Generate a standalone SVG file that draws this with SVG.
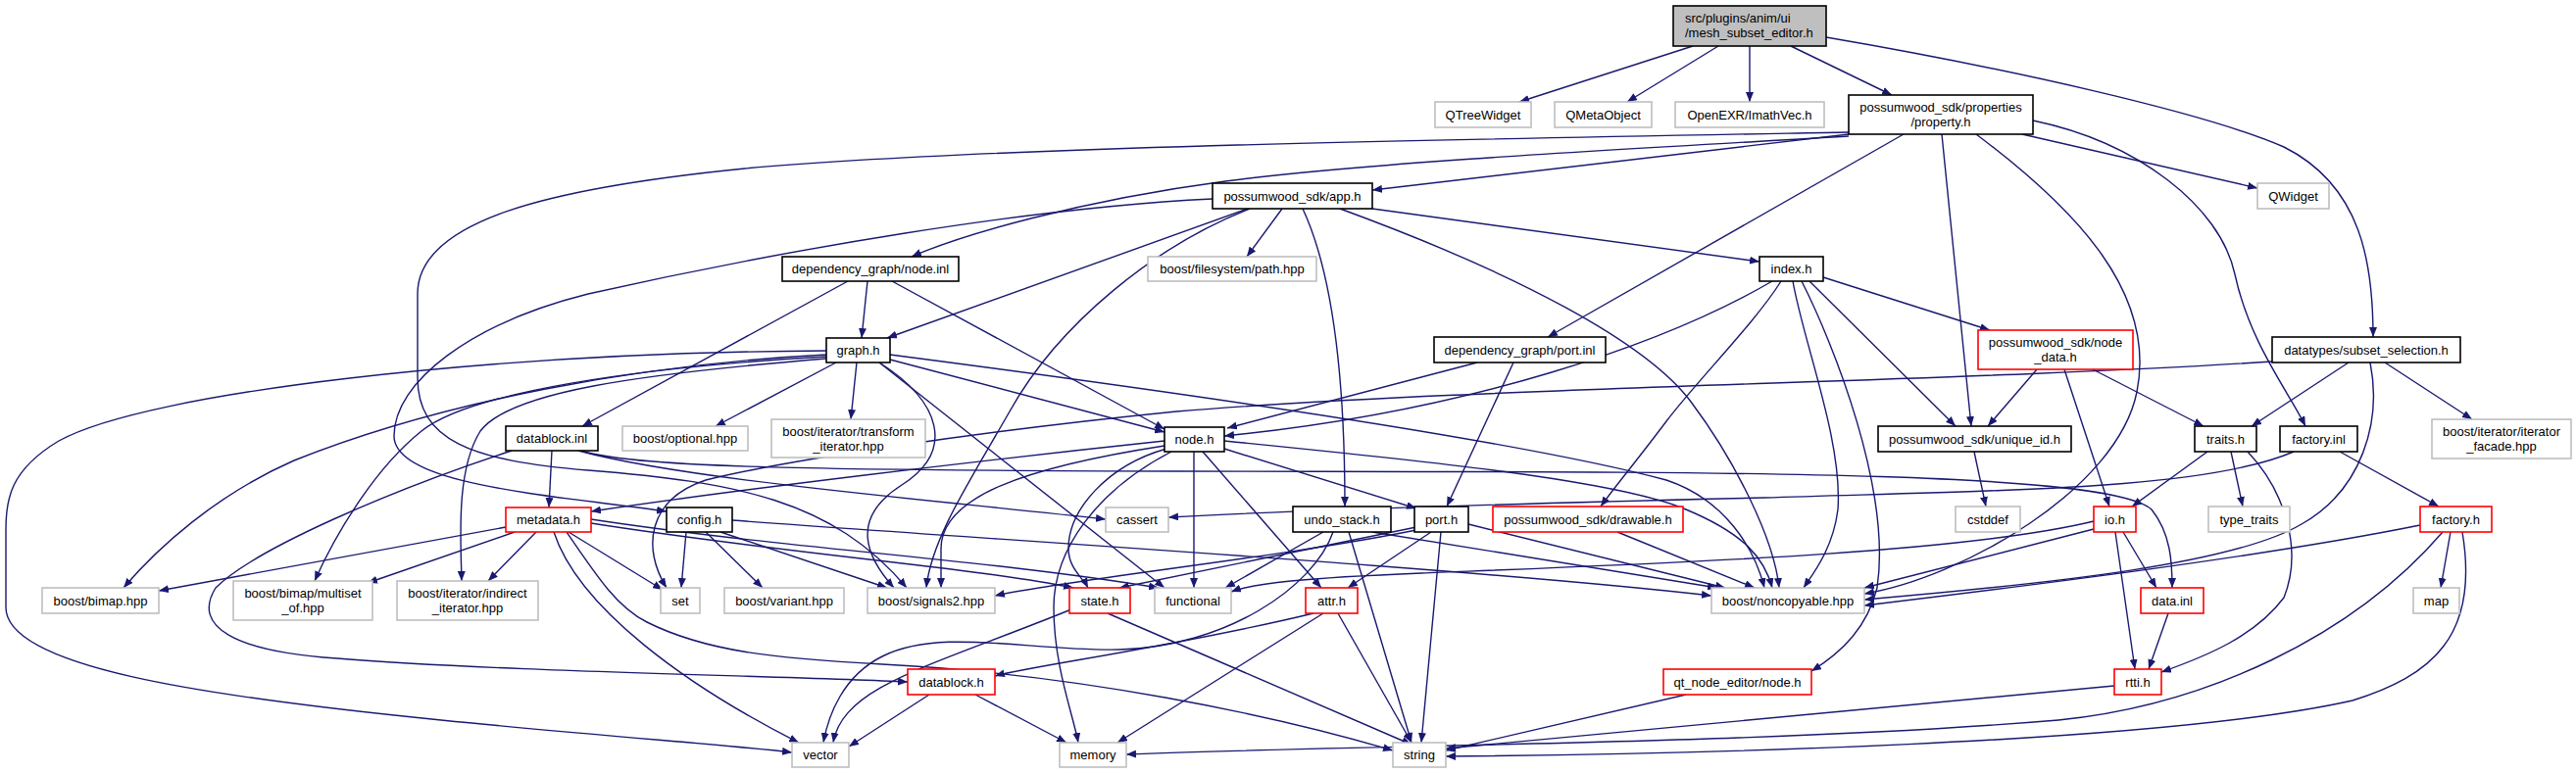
<svg xmlns="http://www.w3.org/2000/svg" width="2628" height="789" viewBox="0 0 2628 789">
<defs>
<style>
.e path{fill:none;stroke:#191970;stroke-width:1.4;marker-end:url(#ah)}
.n rect{fill:#fff;stroke:#000;stroke-width:1.6}
.x rect{fill:#fff;stroke:#bfbfbf;stroke-width:1.6}
.r rect{fill:#fff;stroke:#ff0000;stroke-width:1.6}
text{font-family:"Liberation Sans",Arial,sans-serif;font-size:13px;fill:#000;text-anchor:middle}
</style>
<marker id="ah" viewBox="0 0 10 8" refX="10" refY="4" markerWidth="10" markerHeight="8" markerUnits="userSpaceOnUse" orient="auto"><path d="M0,0 L10,4 L0,8 z" fill="#191970"/></marker>
</defs>
<rect width="2628" height="789" fill="#fff"/>
<g id="edges" class="e">
<path d="M1727,47 L1550,104"/>
<path d="M1753,47 L1660,104"/>
<path d="M1785,47 L1785,104"/>
<path d="M1827,47 L1930,97"/>
<path d="M1863,38 C2050,70 2250,115 2330,150 C2410,190 2421,270 2421,344"/>
<path d="M1886,137 L1400,194"/>
<path d="M1886,139 C1700,150 1400,165 1250,185 C1100,205 980,240 930,262"/>
<path d="M1886,135 C1500,142 1000,150 760,172 C560,192 426,225 426,300 L426,385 C426,450 480,470 600,480 C750,492 850,510 925,600"/>
<path d="M1942,137 L1579,344"/>
<path d="M2063,137 L2303,192"/>
<path d="M2074,123 C2180,145 2265,210 2280,280 C2295,350 2335,400 2352,435"/>
<path d="M1981,137 L2011,435"/>
<path d="M2016,137 C2120,215 2200,300 2180,400 C2160,500 2000,590 1902,606"/>
<path d="M1237,203 C1050,212 800,255 600,300 C480,330 402,390 402,445 C402,495 560,505 680,522"/>
<path d="M1273,213 L905,345"/>
<path d="M1275,213 C1180,250 1080,330 1030,420 C990,490 950,550 945,600"/>
<path d="M1308,213 L1272,262"/>
<path d="M1329,213 C1365,290 1372,420 1372,517"/>
<path d="M1367,213 C1550,280 1680,350 1725,410 C1770,470 1810,550 1815,600"/>
<path d="M1400,213 L1795,267"/>
<path d="M885,287 L879,345"/>
<path d="M910,287 L1188,438"/>
<path d="M865,287 L594,435"/>
<path d="M1808,287 C1700,350 1500,420 1249,445"/>
<path d="M1817,287 C1790,330 1730,390 1700,430 C1670,470 1645,500 1633,517"/>
<path d="M1829,287 C1840,350 1880,450 1875,520 C1870,560 1850,585 1840,600"/>
<path d="M1838,287 C1870,350 1930,500 1915,600 C1905,640 1880,665 1848,685"/>
<path d="M1846,287 L1995,435"/>
<path d="M1860,283 L2030,337"/>
<path d="M2078,377 L2028,435"/>
<path d="M2135,377 L2248,435"/>
<path d="M2106,377 L2152,517"/>
<path d="M2396,370 L2297,435"/>
<path d="M2433,370 L2522,428"/>
<path d="M2418,370 C2430,430 2410,500 2348,535 C2280,575 2100,595 1902,612"/>
<path d="M2318,369 C2000,390 1500,395 1200,420 C1000,440 800,470 720,490 C660,510 655,560 680,600"/>
<path d="M1507,370 L1252,437"/>
<path d="M1544,370 L1476,517"/>
<path d="M908,367 L1188,441"/>
<path d="M853,370 L730,435"/>
<path d="M874,370 L868,428"/>
<path d="M843,362 C650,372 450,410 300,470 C220,505 160,560 126,600"/>
<path d="M843,364 C650,375 480,400 430,440 C380,480 340,550 321,593"/>
<path d="M843,366 C650,382 520,400 490,440 C465,480 470,550 471,593"/>
<path d="M843,358 C500,360 150,400 60,450 C10,480 6,510 6,540 L6,620 C6,680 200,710 450,735 C620,752 740,760 808,768"/>
<path d="M897,370 C960,410 975,460 920,495 C865,530 885,570 912,600"/>
<path d="M897,370 L1188,600"/>
<path d="M908,362 C1200,400 1550,450 1700,490 C1760,510 1790,560 1800,600"/>
<path d="M563,460 L560,518"/>
<path d="M522,460 C400,500 260,560 220,600 C195,640 240,665 344,672 C500,685 800,690 926,696"/>
<path d="M593,460 C640,476 800,480 1200,481 C1700,482 2150,478 2195,520 C2215,545 2216,575 2216,600"/>
<path d="M590,460 C700,490 950,510 1128,530"/>
<path d="M1188,450 C1000,470 750,500 603,522"/>
<path d="M1249,458 L1445,519"/>
<path d="M1227,461 L1348,600"/>
<path d="M1218,461 L1218,600"/>
<path d="M1195,461 C1120,500 1075,560 1075,620 C1075,680 1095,730 1100,758"/>
<path d="M1190,458 C1130,475 1090,520 1090,560 C1090,580 1105,590 1110,600"/>
<path d="M1188,455 C1046,477 960,507 960,560 C960,580 960,590 960,600"/>
<path d="M1249,450 C1450,470 1650,490 1720,520 C1780,545 1800,570 1808,600"/>
<path d="M700,543 L695,600"/>
<path d="M720,543 L778,600"/>
<path d="M735,543 L905,600"/>
<path d="M747,531 C1000,550 1500,580 1746,608"/>
<path d="M516,538 L162,603"/>
<path d="M525,543 L375,595"/>
<path d="M547,543 L498,593"/>
<path d="M580,543 L676,602"/>
<path d="M565,543 C590,620 700,700 815,758"/>
<path d="M578,543 C610,590 630,620 660,635 C720,665 790,672 900,678 C1100,688 1300,730 1421,766"/>
<path d="M603,530 C800,560 1000,570 1182,600"/>
<path d="M603,534 C800,565 1000,580 1095,600"/>
<path d="M1350,543 L1250,600"/>
<path d="M1360,543 C1340,600 1250,660 1142,663 C1050,665 960,640 900,670 C860,690 845,730 840,758"/>
<path d="M1376,543 L1440,758"/>
<path d="M1400,543 L1752,600"/>
<path d="M1445,538 L1142,600"/>
<path d="M1445,541 C1300,570 1100,590 1015,608"/>
<path d="M1460,543 L1375,600"/>
<path d="M1470,543 L1450,758"/>
<path d="M1498,535 L1760,600"/>
<path d="M1650,543 L1790,600"/>
<path d="M2136,532 C2000,565 1700,575 1450,585 C1330,590 1280,595 1256,604"/>
<path d="M2136,540 L1902,600"/>
<path d="M2166,543 L2200,600"/>
<path d="M2158,543 L2178,683"/>
<path d="M2212,626 L2192,683"/>
<path d="M2252,461 L2175,517"/>
<path d="M2276,461 L2288,517"/>
<path d="M2293,461 C2330,500 2350,560 2330,610 C2300,650 2250,670 2205,686"/>
<path d="M2387,461 L2488,517"/>
<path d="M2340,461 C2250,500 2050,500 1800,508 C1500,515 1300,522 1192,528"/>
<path d="M2014,461 L2026,517"/>
<path d="M2500,543 L2490,600"/>
<path d="M2469,536 C2300,570 2050,600 1902,618"/>
<path d="M2492,543 C2400,650 2250,720 2100,735 C1800,760 1400,760 1149,770"/>
<path d="M2512,543 C2530,650 2480,690 2400,715 C2200,760 1700,770 1475,772"/>
<path d="M2157,700 L1475,764"/>
<path d="M1720,709 L1475,766"/>
<path d="M1093,622 C950,680 860,700 850,758"/>
<path d="M1130,626 L1440,760"/>
<path d="M1340,626 C1200,660 1050,680 1015,690"/>
<path d="M1350,626 L1140,758"/>
<path d="M1365,626 L1440,758"/>
<path d="M948,709 L866,762"/>
<path d="M995,709 L1088,758"/>
</g>
<g id="mesh_subset_editor" class="n"><rect x="1707" y="6" width="156" height="41" style="fill:#bfbfbf"/><text x="1719" y="23" style="text-anchor:start">src/plugins/anim/ui</text><text x="1719" y="38" style="text-anchor:start">/mesh_subset_editor.h</text></g>
<g id="QTreeWidget" class="x"><rect x="1464" y="104" width="98" height="26"/><text x="1513" y="121.5">QTreeWidget</text></g>
<g id="QMetaObject" class="x"><rect x="1586" y="104" width="99" height="26"/><text x="1635.5" y="121.5">QMetaObject</text></g>
<g id="ImathVec" class="x"><rect x="1709" y="104" width="152" height="26"/><text x="1785" y="121.5">OpenEXR/ImathVec.h</text></g>
<g id="property" class="n"><rect x="1886" y="97" width="188" height="40"/><text x="1980" y="114">possumwood_sdk/properties</text><text x="1980" y="129">/property.h</text></g>
<g id="app" class="n"><rect x="1237" y="187" width="163" height="26"/><text x="1318.5" y="204.5">possumwood_sdk/app.h</text></g>
<g id="QWidget" class="x"><rect x="2303" y="187" width="73" height="26"/><text x="2339.5" y="204.5">QWidget</text></g>
<g id="node_inl" class="n"><rect x="798" y="262" width="180" height="25"/><text x="888" y="279">dependency_graph/node.inl</text></g>
<g id="fs_path" class="x"><rect x="1171" y="262" width="172" height="25"/><text x="1257" y="279">boost/filesystem/path.hpp</text></g>
<g id="index" class="n"><rect x="1795" y="262" width="65" height="25"/><text x="1827.5" y="279">index.h</text></g>
<g id="graph" class="n"><rect x="843" y="345" width="65" height="25"/><text x="875.5" y="362">graph.h</text></g>
<g id="port_inl" class="n"><rect x="1463" y="344" width="175" height="26"/><text x="1550.5" y="361.5">dependency_graph/port.inl</text></g>
<g id="node_data" class="r"><rect x="2018" y="337" width="158" height="40"/><text x="2097" y="354">possumwood_sdk/node</text><text x="2097" y="369">_data.h</text></g>
<g id="subset_selection" class="n"><rect x="2318" y="344" width="192" height="26"/><text x="2414" y="361.5">datatypes/subset_selection.h</text></g>
<g id="datablock_inl" class="n"><rect x="516" y="435" width="94" height="25"/><text x="563" y="452">datablock.inl</text></g>
<g id="optional" class="x"><rect x="635" y="435" width="128" height="25"/><text x="699" y="452">boost/optional.hpp</text></g>
<g id="transform_iterator" class="x"><rect x="787" y="428" width="157" height="39"/><text x="865.5" y="444.5">boost/iterator/transform</text><text x="865.5" y="459.5">_iterator.hpp</text></g>
<g id="node_h" class="n"><rect x="1188" y="436" width="61" height="25"/><text x="1218.5" y="453">node.h</text></g>
<g id="unique_id" class="n"><rect x="1916" y="435" width="197" height="26"/><text x="2014.5" y="452.5">possumwood_sdk/unique_id.h</text></g>
<g id="traits" class="n"><rect x="2239" y="435" width="63" height="26"/><text x="2270.5" y="452.5">traits.h</text></g>
<g id="factory_inl" class="n"><rect x="2326" y="435" width="79" height="26"/><text x="2365.5" y="452.5">factory.inl</text></g>
<g id="iterator_facade" class="x"><rect x="2481" y="428" width="142" height="40"/><text x="2552" y="445">boost/iterator/iterator</text><text x="2552" y="460">_facade.hpp</text></g>
<g id="metadata" class="r"><rect x="516" y="518" width="87" height="25"/><text x="559.5" y="535">metadata.h</text></g>
<g id="config" class="n"><rect x="680" y="518" width="67" height="25"/><text x="713.5" y="535">config.h</text></g>
<g id="cassert" class="x"><rect x="1128" y="518" width="64" height="25"/><text x="1160" y="535">cassert</text></g>
<g id="undo_stack" class="n"><rect x="1319" y="517" width="100" height="26"/><text x="1369" y="534.5">undo_stack.h</text></g>
<g id="port_h" class="n"><rect x="1443" y="517" width="55" height="26"/><text x="1470.5" y="534.5">port.h</text></g>
<g id="drawable" class="r"><rect x="1523" y="517" width="194" height="26"/><text x="1620" y="534.5">possumwood_sdk/drawable.h</text></g>
<g id="cstddef" class="x"><rect x="1995" y="517" width="66" height="26"/><text x="2028" y="534.5">cstddef</text></g>
<g id="io" class="r"><rect x="2136" y="517" width="43" height="26"/><text x="2157.5" y="534.5">io.h</text></g>
<g id="type_traits" class="x"><rect x="2253" y="517" width="83" height="26"/><text x="2294.5" y="534.5">type_traits</text></g>
<g id="factory_h" class="r"><rect x="2469" y="517" width="73" height="26"/><text x="2505.5" y="534.5">factory.h</text></g>
<g id="bimap" class="x"><rect x="43" y="600" width="119" height="26"/><text x="102.5" y="617.5">boost/bimap.hpp</text></g>
<g id="multiset_of" class="x"><rect x="238" y="593" width="142" height="40"/><text x="309" y="610">boost/bimap/multiset</text><text x="309" y="625">_of.hpp</text></g>
<g id="indirect_iterator" class="x"><rect x="405" y="593" width="144" height="40"/><text x="477" y="610">boost/iterator/indirect</text><text x="477" y="625">_iterator.hpp</text></g>
<g id="set" class="x"><rect x="674" y="600" width="40" height="26"/><text x="694" y="617.5">set</text></g>
<g id="variant" class="x"><rect x="739" y="600" width="122" height="26"/><text x="800" y="617.5">boost/variant.hpp</text></g>
<g id="signals2" class="x"><rect x="885" y="600" width="130" height="26"/><text x="950" y="617.5">boost/signals2.hpp</text></g>
<g id="state" class="r"><rect x="1091" y="600" width="62" height="26"/><text x="1122" y="617.5">state.h</text></g>
<g id="functional" class="x"><rect x="1178" y="600" width="78" height="26"/><text x="1217" y="617.5">functional</text></g>
<g id="attr" class="r"><rect x="1332" y="600" width="53" height="26"/><text x="1358.5" y="617.5">attr.h</text></g>
<g id="noncopyable" class="x"><rect x="1746" y="600" width="156" height="26"/><text x="1824" y="617.5">boost/noncopyable.hpp</text></g>
<g id="data_inl" class="r"><rect x="2184" y="600" width="64" height="26"/><text x="2216" y="617.5">data.inl</text></g>
<g id="map" class="x"><rect x="2462" y="600" width="47" height="26"/><text x="2485.5" y="617.5">map</text></g>
<g id="datablock_h" class="r"><rect x="926" y="683" width="89" height="26"/><text x="970.5" y="700.5">datablock.h</text></g>
<g id="qt_node" class="r"><rect x="1697" y="683" width="151" height="26"/><text x="1772.5" y="700.5">qt_node_editor/node.h</text></g>
<g id="rtti" class="r"><rect x="2157" y="683" width="48" height="26"/><text x="2181" y="700.5">rtti.h</text></g>
<g id="vector" class="x"><rect x="808" y="758" width="58" height="25"/><text x="837" y="775">vector</text></g>
<g id="memory" class="x"><rect x="1081" y="758" width="68" height="25"/><text x="1115" y="775">memory</text></g>
<g id="string" class="x"><rect x="1421" y="758" width="54" height="25"/><text x="1448" y="775">string</text></g>
</svg>
